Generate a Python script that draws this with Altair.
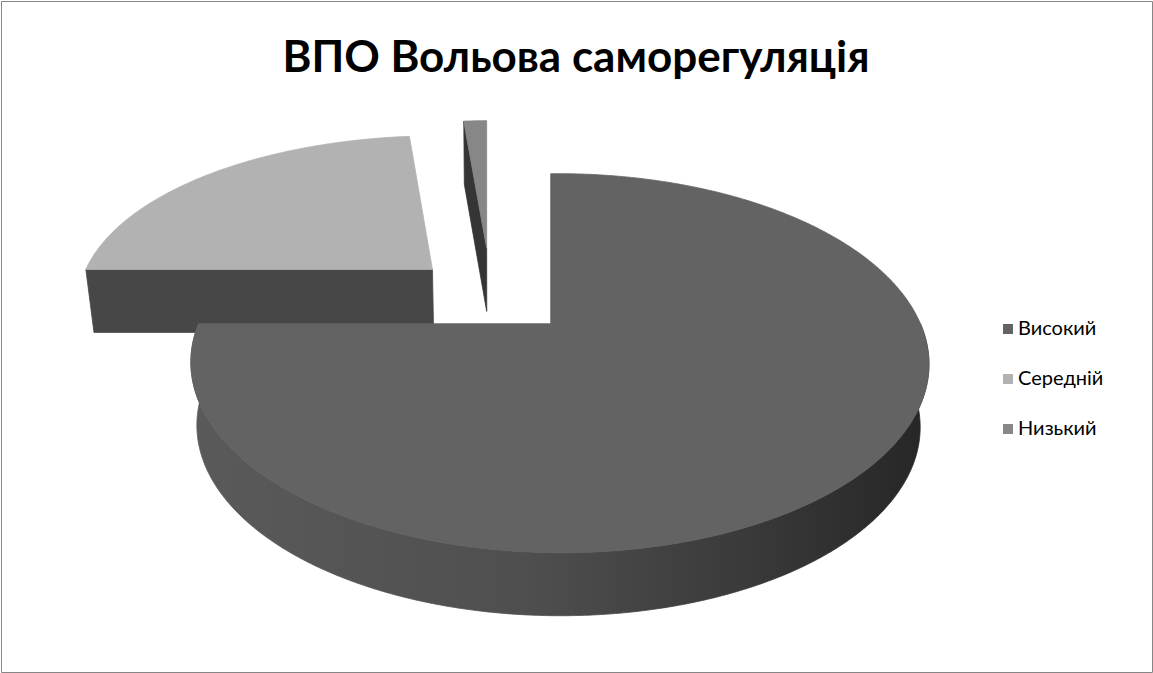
import math
import altair as alt
import pandas as pd

# ---- data ----
categories = ["Високий", "Середній", "Низький"]
values = [60, 19, 1]
title_text = "ВПО Вольова саморегуляція"

# ---- style ----
top_colors = ["#636363", "#b2b2b2", "#878787"]
face_colors = ["#3c3c3c", "#474747", "#353535"]
EXPLODE = [0.229, 0.229, 0.29]
W, H = 1151, 671
CX, CY = 489.5, 294
RX, RY = 357.8, 170.6
K, M = 0.2083, -0.0244
K2X, K2Y = 0.05, 0.363   # depth scaling of exploded slices
THICK = 63
LEAN = 0.02              # side edges converge toward a point below the pie
FONT = "Lato"


def proj(X, Z):
    d = 1 + K * Z + M * X
    return RX * X / d, -RY * Z / d


def drop(x, y):
    return x - (x - CX) * LEAN, y + THICK


tops, faces, walls = [], [], []
total = float(sum(values))
start = 0.0
for i, (cat, v) in enumerate(zip(categories, values)):
    span = 360.0 * v / total
    t0, t1 = start, start + span
    start = t1
    mid = math.radians((t0 + t1) / 2)
    Xa, Za = EXPLODE[i] * math.sin(mid), EXPLODE[i] * math.cos(mid)
    ex, ey = proj(Xa, Za)
    ax, ay = CX + ex, CY + ey
    sx = 1.0 / (1 + K2X * Za)
    sy = 1.0 / (1 + K2Y * Za)

    def rim(tdeg, ax=ax, ay=ay, sx=sx, sy=sy):
        t = math.radians(tdeg)
        fx, fy = proj(math.sin(t), math.cos(t))
        return ax + sx * fx, ay + sy * fy

    n = max(2, int(math.ceil(span * 2)))
    ts = [t0 + span * j / n for j in range(n + 1)]
    pts = [(ax, ay)] + [rim(t) for t in ts] + [(ax, ay)]
    for j, (x, y) in enumerate(pts):
        tops.append({"poly": cat, "category": cat, "idx": j, "x": x, "y": y})

    # radial faces
    for tf, vis in ((t0, math.sin(math.radians(t0)) < -1e-6),
                    (t1, math.sin(math.radians(t1)) > 1e-6)):
        if vis:
            rx_, ry_ = rim(tf)
            quad = [(ax, ay), (rx_, ry_), drop(rx_, ry_), drop(ax, ay), (ax, ay)]
            for j, (x, y) in enumerate(quad):
                faces.append({"poly": f"{cat}-{tf}", "idx": j, "x": x, "y": y,
                              "col": face_colors[i]})

    # outer wall (front half)
    a, b = max(t0, 90.0), min(t1, 270.0)
    if b > a:
        m = max(2, int(math.ceil((b - a) * 2)))
        ws = [a + (b - a) * j / m for j in range(m + 1)]
        upper = [rim(t) for t in ws]
        lower = [drop(x, y) for (x, y) in reversed(upper)]
        for j, (x, y) in enumerate(upper + lower + [upper[0]]):
            walls.append({"poly": f"{cat}-wall", "idx": j, "x": x, "y": y})

df_tops = pd.DataFrame(tops)
df_faces = pd.DataFrame(faces)
df_walls = pd.DataFrame(walls)

xs = alt.X("x:Q", scale=alt.Scale(domain=[0, W], nice=False, zero=False), axis=None)
ys = alt.Y("y:Q", scale=alt.Scale(domain=[0, H], nice=False, zero=False, reverse=True), axis=None)

face_layer = alt.Chart(df_faces).mark_line(strokeWidth=0.8, interpolate="linear").encode(
    x=xs, y=ys,
    detail="poly:N",
    order="idx:Q",
    fill=alt.Fill("col:N", scale=None),
    stroke=alt.Stroke("col:N", scale=None),
)

grad = alt.Gradient(
    gradient="linear",
    stops=[
        alt.GradientStop(color="#5a5a5a", offset=0),
        alt.GradientStop(color="#4f4f4f", offset=0.45),
        alt.GradientStop(color="#3a3a3a", offset=0.75),
        alt.GradientStop(color="#262626", offset=1),
    ],
    x1=0, x2=1, y1=0, y2=0,
)

wall_layer = alt.Chart(df_walls).mark_line(fill=grad, stroke=grad, strokeWidth=0.8, interpolate="linear").encode(
    x=xs, y=ys,
    detail="poly:N",
    order="idx:Q",
)

color_scale = alt.Scale(domain=categories, range=top_colors)
top_layer = alt.Chart(df_tops).mark_line(strokeWidth=0.8, interpolate="linear").encode(
    x=xs, y=ys,
    detail="poly:N",
    order="idx:Q",
    fill=alt.Fill(
        "category:N", scale=color_scale,
        legend=alt.Legend(
            title=None, orient="none", legendX=997, legendY=318,
            symbolType="square", symbolSize=100, symbolStrokeWidth=0,
            labelFont=FONT, labelFontSize=20, labelColor="#000000",
            rowPadding=30, labelOffset=0,
        ),
    ),
    stroke=alt.Stroke("category:N", scale=color_scale, legend=None),
)

title_layer = alt.Chart(pd.DataFrame({"t": [title_text]})).mark_text(
    font=FONT, fontSize=44, fontWeight="bold", align="center", baseline="alphabetic", color="#000000"
).encode(text="t:N", x=alt.value(575), y=alt.value(71))

chart = alt.layer(face_layer, wall_layer, top_layer, title_layer).properties(
    width=W, height=H,
    padding={"left": 1, "top": 1, "right": 1, "bottom": 1},
    autosize=alt.AutoSizeParams(type="none"),
    background="white",
).configure_view(stroke="#868686", strokeWidth=1)

chart.save("out.html", embed_options={"renderer": "svg", "actions": False})
